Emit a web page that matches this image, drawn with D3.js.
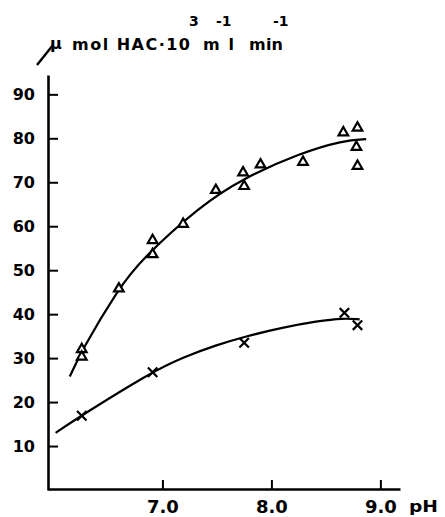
<!DOCTYPE html>
<html>
<head>
<meta charset="utf-8">
<script src="https://cdn.jsdelivr.net/npm/d3@7"></script>
<style>
    body { margin: 0; background: #fff; }
    svg { display: block; font-family: "DejaVu Sans", sans-serif; font-weight: bold; }
    .axis path, .axis line { stroke: #000; }
    .axis text { fill: #000; font-family: "DejaVu Sans", sans-serif; font-weight: bold; }
</style>
</head>
<body>
<svg id="chart" width="445" height="517"></svg>
<script>

/*    ========    DATA    =========    */

// measured points, triangles (upper series)
var triPH  = [6.26, 6.26, 6.60, 6.91, 6.91, 7.19, 7.49, 7.74, 7.75, 7.90, 8.29, 8.66, 8.79, 8.78, 8.79];
var triVal = [32.0, 30.3, 45.8, 56.8, 53.6, 60.5, 68.2, 72.2, 69.1, 74.0, 74.6, 81.3, 82.4, 78.0, 73.7];

// measured points, crosses (lower series)
var crossPH  = [6.26, 6.91, 7.75, 8.67, 8.79];
var crossVal = [16.9, 26.8, 33.5, 40.3, 37.5];

// hand drawn fitted curves
var curveAPH  = [6.15, 6.26, 6.60, 6.80, 7.35, 7.74, 8.26, 8.66, 8.87];
var curveAVal = [25.8, 31.8, 45.9, 52.3, 64.7, 70.9, 76.6, 79.5, 79.8];
var curveBPH  = [6.02, 6.26, 6.92, 7.19, 7.50, 7.74, 8.11, 8.42, 8.66, 8.81];
var curveBVal = [13.0, 17.0, 27.1, 30.2, 33.0, 34.8, 37.0, 38.4, 39.1, 38.8];

var xTicks = [7.0, 8.0, 9.0];
var yTicks = [10, 20, 30, 40, 50, 60, 70, 80, 90];

/*    ========    SETTINGS    =========    */

var svg = d3.select('#chart');

var X_RANGE = [5.95, 9.18];   // pH
var Y_RANGE = [0, 94.4];      // umol HAC

var xscale = d3.scaleLinear().domain(X_RANGE).range([48, 400]);
var yscale = d3.scaleLinear().domain(Y_RANGE).range([490, 75]);

function zip(a, b) {
    return a.map(function(d, i) { return [d, b[i]]; });
}

/*    ========    FUNCTIONS    =========    */

function initAxes() {
    var yAxis = d3.axisLeft(yscale)
        .tickValues(yTicks)
        .tickSizeInner(-10)
        .tickSizeOuter(0)
        .tickPadding(13)
        .tickFormat(d3.format("d"));

    var gy = svg.append("g")
        .attr("class", "axis")
        .attr("transform", "translate(48, 0)")
        .call(yAxis);
    gy.select(".domain").attr("stroke-width", 2.6);
    gy.selectAll(".tick line").attr("stroke-width", 2);
    gy.selectAll("text").style("font-size", "16px");

    var xAxis = d3.axisBottom(xscale)
        .tickValues(xTicks)
        .tickSizeInner(-9)
        .tickSizeOuter(0)
        .tickPadding(11)
        .tickFormat(d3.format(".1f"));

    var gx = svg.append("g")
        .attr("class", "axis")
        .attr("transform", "translate(0, 489)")
        .call(xAxis);
    gx.select(".domain").attr("stroke-width", 2.4);
    gx.selectAll(".tick line").attr("stroke-width", 2);
    gx.selectAll("text").style("font-size", "18px");

    svg.append("text")
        .attr("x", 409)
        .attr("y", 512)
        .attr("textLength", 29)
        .attr("lengthAdjust", "spacingAndGlyphs")
        .style("font-size", "16px")
        .text("pH");
}

function initLabel() {
    // the mu, with its long slanted tail as printed
    svg.append("line")
        .attr("x1", 37).attr("y1", 65)
        .attr("x2", 53).attr("y2", 45)
        .attr("stroke", "#000")
        .attr("stroke-width", 2.4);
    svg.append("text")
        .attr("x", 50).attr("y", 49)
        .style("font-size", "16px")
        .text("μ");

    svg.append("text")
        .attr("x", 72).attr("y", 50)
        .attr("textLength", 118)
        .style("font-size", "16px")
        .text("mol HAC·10");
    svg.append("text")
        .attr("x", 203).attr("y", 50)
        .attr("textLength", 31)
        .style("font-size", "16px")
        .text("ml");
    svg.append("text")
        .attr("x", 249).attr("y", 50)
        .attr("textLength", 34)
        .style("font-size", "16px")
        .text("min");

    var sup = [["3", 189], ["-1", 216], ["-1", 273]];
    svg.selectAll("text.sup")
        .data(sup).enter()
        .append("text")
        .attr("class", "sup")
        .attr("x", function(d) { return d[1]; })
        .attr("y", 26)
        .style("font-size", "14px")
        .text(function(d) { return d[0]; });
}

function plotLines() {
    var line = d3.line()
        .x(function(d) { return xscale(d[0]); })
        .y(function(d) { return yscale(d[1]); })
        .curve(d3.curveBasis);

    svg.append("path")
        .datum(zip(curveAPH, curveAVal))
        .attr("d", line)
        .attr("fill", "none")
        .attr("stroke", "#000")
        .attr("stroke-width", 2.2);

    svg.append("path")
        .datum(zip(curveBPH, curveBVal))
        .attr("d", line)
        .attr("fill", "none")
        .attr("stroke", "#000")
        .attr("stroke-width", 2.2);
}

function plotPoints() {
    var tri = d3.symbol().type(d3.symbolTriangle).size(40);

    svg.selectAll("path.tri")
        .data(zip(triPH, triVal)).enter()
        .append("path")
        .attr("class", "tri")
        .attr("d", tri)
        .attr("transform", function(d) {
            return "translate(" + xscale(d[0]) + "," + yscale(d[1]) + ")";
        })
        .attr("fill", "#fff")
        .attr("stroke", "#000")
        .attr("stroke-width", 2.2);

    var cross = d3.symbol().type(d3.symbolX).size(60);

    svg.selectAll("path.cross")
        .data(zip(crossPH, crossVal)).enter()
        .append("path")
        .attr("class", "cross")
        .attr("d", cross)
        .attr("transform", function(d) {
            return "translate(" + xscale(d[0]) + "," + yscale(d[1]) + ")";
        })
        .attr("fill", "none")
        .attr("stroke", "#000")
        .attr("stroke-width", 2.2);
}

/*    ========    RUN    =========    */

initAxes();
initLabel();
plotLines();
plotPoints();

</script>
</body>
</html>
